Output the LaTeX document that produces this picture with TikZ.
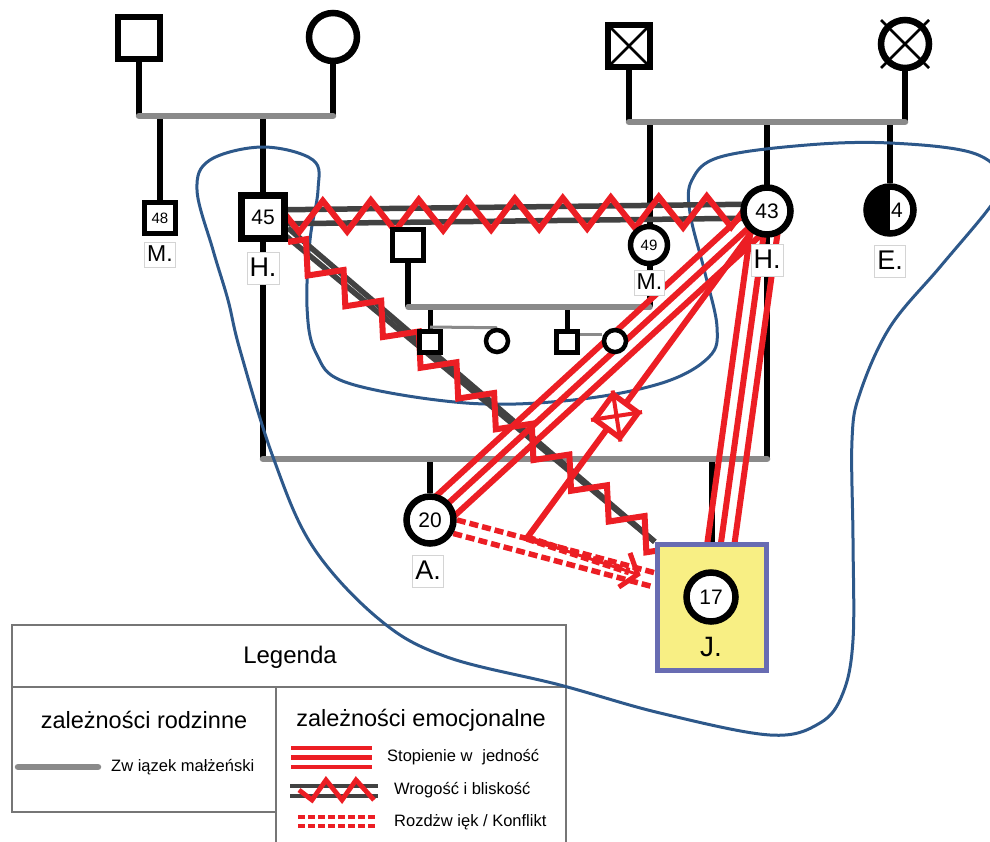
\documentclass[tikz,border=0pt]{standalone}
\usepackage{fontspec}
\setmainfont{Liberation Sans}
\usetikzlibrary{calc,decorations.pathmorphing,arrows.meta}

\definecolor{relred}{RGB}{236,30,36}
\definecolor{marrgray}{RGB}{138,138,138}
\definecolor{hostgray}{RGB}{66,66,66}
\definecolor{boundblue}{RGB}{45,88,138}
\definecolor{idfill}{RGB}{248,239,132}
\definecolor{idedge}{RGB}{104,108,178}
\definecolor{framegray}{RGB}{118,118,118}
\definecolor{tagedge}{RGB}{212,212,212}

\newcommand{\fsize}[1]{\fontsize{#1}{#1}\selectfont}
% three parallel red strokes between two nodes
\newcommand{\fusedlink}[3]{%
  \draw[fused] (#1.center) -- (#2.center);
  \draw[fused] ($(#1)!#3!90:(#2)$) -- ($(#2)!#3!-90:(#1)$);
  \draw[fused] ($(#1)!#3!-90:(#2)$) -- ($(#2)!#3!90:(#1)$);}

\pgfdeclarelayer{familylayer}
\pgfdeclarelayer{boundlayer}
\pgfdeclarelayer{rellayer}
\pgfsetlayers{familylayer,boundlayer,rellayer,main}

\begin{document}
\begin{tikzpicture}[x=1pt,y=-1pt,
  person/.style={draw=black, fill=white, inner sep=0pt},
  bigmale/.style={person, rectangle, line width=6.5pt, minimum size=42pt},
  bigfemale/.style={person, circle, line width=6.5pt, minimum size=48pt},
  agebox/.style={person, rectangle, line width=7pt, minimum size=43pt, font=\fsize{21}},
  agecirc/.style={person, circle, line width=6.5pt, minimum size=47pt, font=\fsize{21}},
  smallbox/.style={person, rectangle, line width=5.5pt, minimum size=31pt, font=\fsize{15}},
  smallcirc/.style={person, circle, line width=5.5pt, minimum size=37pt, font=\fsize{15}},
  tinymale/.style={person, rectangle, line width=4.5pt, minimum size=21pt},
  tinyfemale/.style={person, circle, line width=4.5pt, minimum size=22pt},
  tag/.style={draw=tagedge, line width=0.8pt, fill=white, inner xsep=2.5pt, inner ysep=3.5pt,
    text height=20pt, text depth=5pt, font=\fsize{27}},
  smalltag/.style={tag, inner ysep=2pt, text height=17pt, text depth=4pt, font=\fsize{23}},
  blood/.style={draw=black, line width=6pt},
  marriage/.style={draw=marrgray, line width=6.5pt, line cap=round},
  sibpair/.style={draw=marrgray, line width=3pt},
  boundary/.style={draw=boundblue, line width=3pt},
  hostline/.style={draw=hostgray, line width=5.5pt},
  hostzig/.style={draw=relred, line width=6pt, decorate},
  fused/.style={draw=relred, line width=6pt},
  conflict/.style={draw=relred, line width=5.5pt, dash pattern=on 9pt off 4pt},
  cutoff/.style={draw=relred, fill=white, line width=5.5pt, rectangle, minimum size=31pt, inner sep=0pt},
  frame/.style={draw=framegray, line width=2pt},
  legtext/.style={anchor=west, inner sep=0pt, font=\fsize{16.5}},
  leghead/.style={inner sep=0pt, font=\fsize{23.5}},
]
\useasboundingbox (0,0) rectangle (990,841);

% ---------- people ----------
\node[bigmale] (gfL) at (139,38) {};
\node[bigfemale] (gmL) at (333,37) {};
\node[bigmale, path picture={\draw[line width=2.5pt]
  (path picture bounding box.north west) -- (path picture bounding box.south east)
  (path picture bounding box.north east) -- (path picture bounding box.south west);}] (gfR) at (629,46) {};
\node[bigfemale] (gmR) at (905,44) {};
\draw[line width=2.5pt] ($(gmR)+(-24,-24)$) -- ($(gmR)+(24,24)$)
                        ($(gmR)+(24,-24)$) -- ($(gmR)+(-24,24)$);

\node[smallbox] (M48) at (160,218) {48};
\node[smalltag] (M48t) at (160,254.5) {M.};
\node[agebox] (H45) at (263,217) {45};
\node[tag] (H45t) at (263,268.5) {H.};
\node[smallcirc] (M49) at (649,245) {49};
\node[smalltag] (M49t) at (649.5,282.5) {M.};
\node[agecirc] (H43) at (767,211) {43};
\node[tag] (H43t) at (767,260.5) {H.};
\node[agecirc, path picture={\fill[black] (path picture bounding box.north) rectangle (path picture bounding box.south west);}] (E44) at (890,210) {\hspace*{14pt}4};
\node[tag] (E44t) at (890,261.5) {E.};
\node[smallbox] (Mp) at (408,245) {};

\node[tinymale] (c1) at (430,342) {};
\node[tinyfemale] (c1w) at (497,341) {};
\node[tinymale] (c2) at (567,342) {};
\node[tinyfemale] (c2w) at (615,341) {};

\node[agecirc] (A20) at (430,520) {20};
\node[tag] (A20t) at (428,571.5) {A.};
\node[draw=idedge, fill=idfill, line width=5.5pt, minimum width=109pt, minimum height=126pt, inner sep=0pt] (Jbox) at (712,607.5) {};
\node[agecirc, minimum size=49pt] (J17) at (711,597) {17};
\node[font=\fsize{28}, inner sep=0pt] (J17t) at (711,647) {J.};

\coordinate (hit) at (527,538);
\coordinate (jleft) at ([yshift=27.5pt]Jbox.west);

% ---------- marriage and descent lines ----------
\coordinate (m1a) at (139,116); \coordinate (m1b) at (333,116);
\coordinate (m1c) at (160,116); \coordinate (m1d) at (263,116);
\coordinate (m2a) at (629,122); \coordinate (m2b) at (905,122);
\coordinate (m2c) at (650,122); \coordinate (m2d) at (767,122); \coordinate (m2e) at (890,122);
\coordinate (m3a) at (263,459); \coordinate (m3b) at (767,459);
\coordinate (m3c) at (430,459); \coordinate (m3d) at (712,459);
\coordinate (m4a) at (408,307); \coordinate (m4b) at (650,307);
\coordinate (m4c) at (430,307); \coordinate (m4d) at (567,307);

\begin{pgfonlayer}{familylayer}
  \draw[blood] (gfL) -- (m1a);
  \draw[blood] (gmL) -- (m1b);
  \draw[blood] (m1c) -- (M48);
  \draw[blood] (m1d) -- (m3a);
  \draw[blood] (gfR) -- (m2a);
  \draw[blood] (gmR) -- (m2b);
  \draw[blood] (m2c) -- (m4b);
  \draw[blood] (m2d) -- (m3b);
  \draw[blood] (m2e) -- (E44);
  \draw[blood] (Mp) -- (m4a);
  \draw[blood, line width=5pt] (m4c) -- (c1);
  \draw[blood, line width=5pt] (m4d) -- (c2);
  \draw[blood] (m3c) -- (A20);
  \draw[blood] (m3d) -- (Jbox);

  \draw[marriage] (m1a) -- (m1b);
  \draw[marriage] (m2a) -- (m2b);
  \draw[marriage] (m3a) -- (m3b);
  \draw[marriage, line width=5.5pt] (m4a) -- (m4b);
  \draw[sibpair] ($(c1)+(0,-15)$) -- (c1w.north);
  \draw[sibpair] ($(c2.east)+(0,-8)$) -- ($(c2w.west)+(0,-7)$);

  % ---------- legend ----------
  \draw[frame] (12,625) rectangle (566,687);
  \draw[frame] (12,687) rectangle (276,812);
  \draw[frame] (276,845) -- (276,687) -- (566,687) -- (566,845);
  \node[font=\fsize{24}, inner sep=0pt] (legtitle) at (290,657) {Legenda};
  \node[leghead] (legfam) at (144,720) {zależności rodzinne};
  \node[leghead] (legemo) at (421,720) {zależności emocjonalne};

  \coordinate (k1a) at (18,767); \coordinate (k1b) at (98,767);
  \draw[marriage] (k1a) -- (k1b);
  \node[legtext] (k1t) at (111,767) {Zw iązek małżeński};

  \foreach \yy in {748,757.5,767} \draw[fused, line width=4.8pt] (291,\yy) -- (372,\yy);
  \node[legtext] (k2t) at (387,757) {Stopienie w\hspace{0.6em}jedność};

  \draw[hostline, line width=4.8pt] (290,786) -- (378,786);
  \draw[hostline, line width=4.8pt] (290,796) -- (378,796);
  \draw[relred, line width=4.8pt] (299,790) -- (312,800) -- (326,780) -- (342,800) -- (356,780) -- (374,800);
  \node[legtext] (k3t) at (394,790) {Wrogość i bliskość};

  \draw[conflict, line width=4.8pt, dash pattern=on 7pt off 3pt] (298,817) -- (378,817);
  \draw[conflict, line width=4.8pt, dash pattern=on 7pt off 3pt] (298,826) -- (378,826);
  \node[legtext] (k4t) at (394,822) {Rozdżw ięk / Konflikt};
\end{pgfonlayer}

% ---------- emotional boundary ----------
\begin{pgfonlayer}{boundlayer}
  \draw[boundary] plot[smooth cycle, tension=0.6] coordinates {
    (197,190) (210,160) (263,147) (313,160) (318,190) (310,240) (307,307) (316,353)
    (348,383) (466,403) (573,400) (662,383) (709,357) (717,327) (705,273) (690,213)
    (692,180) (720,157) (807,145) (890,143) (973,153) (1004,180) (990,207) (940,267)
    (890,327) (860,393) (852,440) (853,540) (853,640) (843,693) (820,723) (770,735)
    (660,713) (560,685) (447,657) (380,620) (313,547) (273,457) (240,350) (228,300)
    (213,250)};
\end{pgfonlayer}

% ---------- emotional relationships ----------
\begin{pgfonlayer}{rellayer}
  % hostile and close: H. 45 -- H. 43
  \draw[hostline] ($(H45)!7pt!90:(H43)$) -- ($(H43)!7pt!-90:(H45)$);
  \draw[hostline] ($(H45)!7pt!-90:(H43)$) -- ($(H43)!7pt!90:(H45)$);
  % hostile and close: H. 45 -- J. 17
  \draw[hostline] (H45.center) -- (Jbox.north west);
  \draw[hostline] ([yshift=14pt]H45.south east) -- (Jbox.north west);

  % fused
  \fusedlink{H43}{A20}{13.5pt}
  \fusedlink{H43}{Jbox}{13.5pt}

  \draw[hostzig, decoration={zigzag, segment length=48pt, amplitude=15.5pt}] (H45.center) -- (H43.center);
  \draw[hostzig, decoration={zigzag, segment length=48.6pt, amplitude=13.5pt}]
    (H45.south east) -- ($(H45.south east)!500pt!(Jbox.north west)$);

  % conflict A. 20 -- J. 17
  \draw[conflict] ($(A20)!7pt!90:(jleft)$) -- ($(jleft)!7pt!-90:(A20)$);
  \draw[conflict] ($(A20)!7pt!-90:(jleft)$) -- ($(jleft)!7pt!90:(A20)$);

  % H. 43 acting on the A.--J. link
  \draw[relred, line width=6pt] (H43.center) -- (hit) node[cutoff, pos=0.627, sloped] (cut) {};
  \draw[relred, line width=4pt] (cut.north west) -- (cut.south east) (cut.north east) -- (cut.south west);
  \draw[relred, line width=7.5pt, dash pattern=on 8pt off 3.5pt] (hit) -- ($(hit)!0.80!(jleft)$);
  \draw[relred, line width=3pt, -{Straight Barb[length=14pt, width=36pt, line width=5pt]}]
    (hit) -- ($(hit)!0.89!(jleft)$);
\end{pgfonlayer}
\end{tikzpicture}
\end{document}
